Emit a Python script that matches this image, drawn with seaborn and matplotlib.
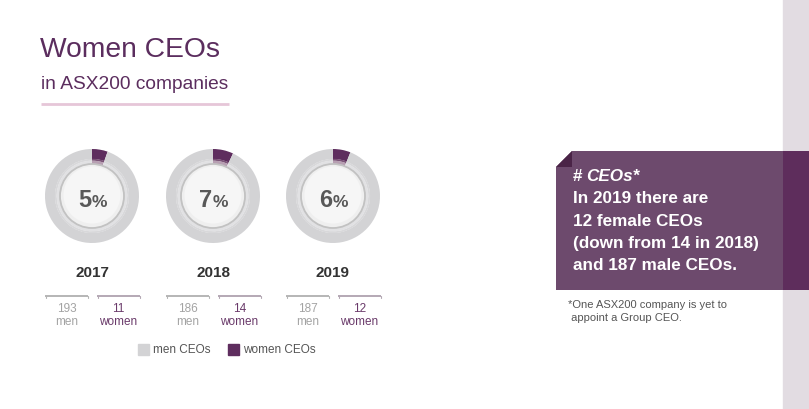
import matplotlib
matplotlib.use("Agg")
import matplotlib.pyplot as plt
import seaborn as sns
from matplotlib.patches import Circle, Rectangle, Polygon

# ---- data ----
years = ["2017", "2018", "2019"]
men = [193, 186, 187]
women = [11, 14, 12]
pct_labels = ["5", "7", "6"]
legend_labels = ["men CEOs", "women CEOs"]
title = "Women CEOs"
subtitle = "in ASX200 companies"
box_lines = ["In 2019 there are", "12 female CEOs", "(down from 14 in 2018)", "and 187 male CEOs."]
footnote = ["*One ASX200 company is yet to", " appoint a Group CEO."]

sns.set_theme(style="white")
plt.rcParams["font.family"] = ["Liberation Sans", "DejaVu Sans"]

W, H = 809, 410
fig = plt.figure(figsize=(W / 100, H / 100), dpi=100)
ax = fig.add_axes([0, 0, 1, 1])

def Y(y):
    return H - y

PURPLE = "#5e2d5e"
GRAY = "#d3d3d5"
TITLE_C = "#5b2d5e"

# right strip
ax.add_patch(Rectangle((783, 0), 26, H, color="#e2dce2", zorder=0))

# title
ax.text(40, Y(57), title, fontsize=20.3, color=TITLE_C, ha="left", va="baseline")
ax.text(41, Y(89), subtitle, fontsize=13.8, color=TITLE_C, ha="left", va="baseline")
ax.plot([41, 229], [Y(105), Y(105)], color="#e6c6d8", lw=2, solid_capstyle="butt")

centers_x = [92, 213, 333]
cy = Y(197)
for i, yr in enumerate(years):
    cx = centers_x[i]
    vals = [women[i], men[i]]
    ax.pie(vals, colors=[PURPLE, GRAY], startangle=90, counterclock=False,
           radius=47, center=(cx, cy), wedgeprops=dict(width=10, edgecolor="none"), frame=True)
    ax.pie(vals, colors=["#7a5276", "#d8d8da"], startangle=90, counterclock=False,
           radius=37.2, center=(cx, cy), wedgeprops=dict(width=2, edgecolor="none"), frame=True)
    ax.pie(vals, colors=["#b79fb2", "#e1e1e3"], startangle=90, counterclock=False,
           radius=35.4, center=(cx, cy), wedgeprops=dict(width=4, edgecolor="none"), frame=True)
    ax.add_patch(Circle((cx, cy), 32, facecolor="#efefef", edgecolor="#c2c2c2", lw=1.3, zorder=3))
    ax.add_patch(Circle((cx, cy + 1), 28.5, facecolor="#f6f6f6", edgecolor="none", zorder=3))
    ax.text(cx - 1, Y(207), pct_labels[i], fontsize=17, fontweight="bold", color="#585858",
            ha="right", va="baseline", zorder=4)
    ax.text(cx - 0.5, Y(207), "%", fontsize=12.5, fontweight="bold", color="#585858",
            ha="left", va="baseline", zorder=4)
    ax.text(cx, Y(273), yr, fontsize=11, fontweight="bold", color="#333333",
            ha="center", va="center")
    # counts
    mx0 = cx - 47
    wx0 = cx + 5
    for x0, c in ((mx0, "#b5b5b5"), (wx0, "#b4a8b4")):
        ax.plot([x0, x0 + 43], [Y(297), Y(297)], color=c, lw=1.4, solid_capstyle="butt")
        ax.plot([x0 + 0.5, x0 + 0.5], [Y(297), Y(299)], color=c, lw=0.8)
        ax.plot([x0 + 42.5, x0 + 42.5], [Y(297), Y(299)], color=c, lw=0.8)
    ax.text(mx0 + 21.5, Y(309), str(men[i]), fontsize=8.5, color="#a3a3a3", ha="center", va="center")
    ax.text(mx0 + 21.5, Y(322), "men", fontsize=8.5, color="#a3a3a3", ha="center", va="center")
    ax.text(wx0 + 21.5, Y(309), str(women[i]), fontsize=8.5, color="#6a3a6a", ha="center", va="center")
    ax.text(wx0 + 21.5, Y(322), "women", fontsize=8.5, color="#6a3a6a", ha="center", va="center")

# legend
ax.add_patch(Rectangle((138, Y(356)), 11, 11, color=GRAY))
ax.text(153, Y(350), legend_labels[0], fontsize=8.5, color="#555555", ha="left", va="center")
ax.add_patch(Rectangle((228, Y(356)), 11, 11, color=PURPLE))
ax.text(243, Y(350), legend_labels[1], fontsize=8.5, color="#555555", ha="left", va="center")

# info box
ax.add_patch(Polygon([(556, Y(168)), (572, Y(152)), (783, Y(152)), (783, Y(291)), (556, Y(291))],
                     closed=True, facecolor="#6d4a6d", edgecolor="none", zorder=1))
ax.add_patch(Rectangle((783, Y(291)), 26, 139, facecolor="#5e2d5c", edgecolor="none", zorder=1))
ax.add_patch(Polygon([(556, Y(168)), (572, Y(152)), (572, Y(168))], closed=True,
                     facecolor="#4a2447", edgecolor="none", zorder=2))
ax.text(573, Y(177), "# ", fontsize=12.3, fontweight="bold", color="white", ha="left", va="center", zorder=3)
ax.text(586, Y(177), "CEOs*", fontsize=12.3, fontweight="bold", style="italic", color="white",
        ha="left", va="center", zorder=3)
for k, line in enumerate(box_lines):
    ax.text(573, Y(199 + 22.3 * k), line, fontsize=12.3, fontweight="bold", color="white",
            ha="left", va="center", zorder=3)
for k, line in enumerate(footnote):
    ax.text(568, Y(305 + 13 * k), line, fontsize=8, color="#555555", ha="left", va="center")

ax.set_xlim(0, W)
ax.set_ylim(0, H)
ax.set_aspect("equal")
ax.axis("off")
fig.savefig("out.png", dpi=100, facecolor="white")
